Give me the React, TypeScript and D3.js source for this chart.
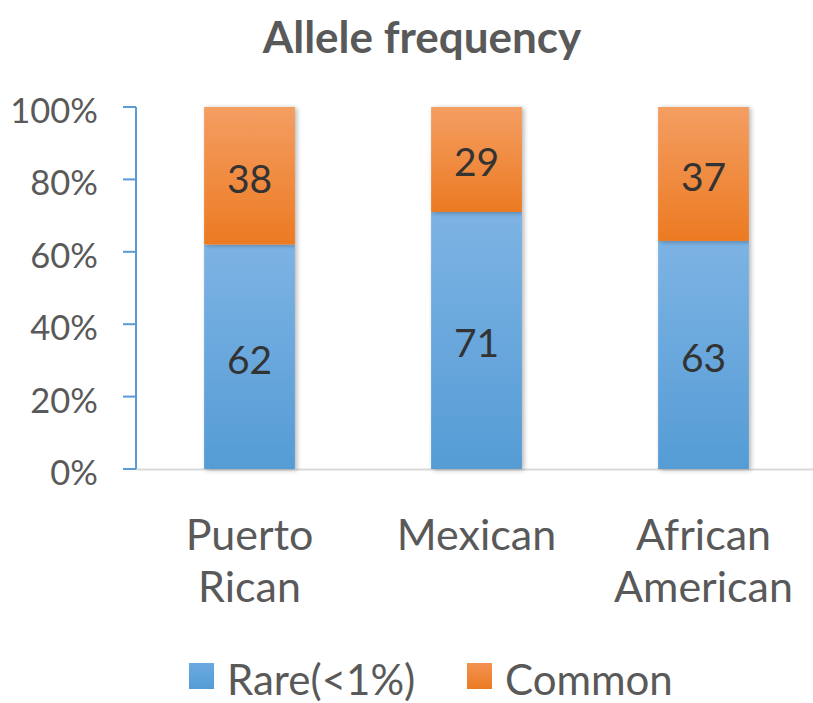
import React from "react";
import * as d3 from "d3";

const categories = ["Puerto Rican", "Mexican", "African American"];
const categoryLines = [["Puerto", "Rican"], ["Mexican"], ["African", "American"]];
const rareValues = [62, 71, 63];
const commonValues = [38, 29, 37];
const yTicks = [0, 20, 40, 60, 80, 100];
const seriesNames = ["Rare(<1%)", "Common"];

const W = 813;
const H = 703;
const FONT = "Lato, 'Open Sans', sans-serif";
const TEXT = "#595959";

export default function App() {
  const x = d3.scaleBand<string>().domain(categories).range([136, 817]).paddingInner(0.6).paddingOuter(0.3);
  const y = d3.scaleLinear().domain([0, 100]).range([469, 107]);
  const bw = x.bandwidth();

  const stackData = categories.map((c, i) => ({ cat: c, rare: rareValues[i], common: commonValues[i] }));
  const stack = d3.stack<any>().keys(["rare", "common"])(stackData);

  const fills = ["url(#gBlue)", "url(#gOrange)"];

  return (
    <svg width={W} height={H} style={{ display: "block", position: "absolute", left: 0, top: 0 }}>
      <defs>
        <linearGradient id="gBlue" x1="0" y1="0" x2="0" y2="1">
          <stop offset="0" stopColor="#7DB3E4" />
          <stop offset="1" stopColor="#559CD5" />
        </linearGradient>
        <linearGradient id="gOrange" x1="0" y1="0" x2="0" y2="1">
          <stop offset="0" stopColor="#F49E62" />
          <stop offset="1" stopColor="#EC7A22" />
        </linearGradient>
        <linearGradient id="lBlue" x1="0" y1="0" x2="0" y2="1">
          <stop offset="0" stopColor="#6AA9E0" />
          <stop offset="1" stopColor="#559CD5" />
        </linearGradient>
        <linearGradient id="lOrange" x1="0" y1="0" x2="0" y2="1">
          <stop offset="0" stopColor="#F39251" />
          <stop offset="1" stopColor="#EC7A22" />
        </linearGradient>
        <filter id="shadow" x="-20%" y="-10%" width="140%" height="120%">
          <feGaussianBlur in="SourceAlpha" stdDeviation="2.5" />
          <feOffset dx="2" dy="1" result="b" />
          <feComponentTransfer>
            <feFuncA type="linear" slope="0.3" />
          </feComponentTransfer>
          <feMerge>
            <feMergeNode />
            <feMergeNode in="SourceGraphic" />
          </feMerge>
        </filter>
      </defs>
      <rect x={0} y={0} width={W} height={H} fill="#ffffff" />

      <text x={422} y={53} textAnchor="middle" fontFamily={FONT} fontWeight="bold" fontSize={44} fill={TEXT}>
        Allele frequency
      </text>

      {/* baseline */}
      <line x1={136} x2={817} y1={y(0) + 0.5} y2={y(0) + 0.5} stroke="#D9D9D9" strokeWidth={2} />

      {/* bars */}
      {stack.map((s, si) => (
        <g key={si}>
          {s.map((d, i) => (
            <rect
              key={i}
              x={x(categories[i])!}
              y={y(d[1])}
              width={bw}
              height={y(d[0]) - y(d[1])}
              fill={fills[si]}
              filter="url(#shadow)"
            />
          ))}
        </g>
      ))}

      {/* data labels */}
      {stack.map((s, si) => (
        <g key={"l" + si}>
          {s.map((d, i) => (
            <text
              key={i}
              x={x(categories[i])! + bw / 2}
              y={y((d[0] + d[1]) / 2) + 17}
              textAnchor="middle"
              fontFamily={FONT}
              fontSize={39}
              fill="#333333"
            >
              {d[1] - d[0]}
            </text>
          ))}
        </g>
      ))}

      {/* y axis */}
      <line x1={136} x2={136} y1={y(0)} y2={y(100)} stroke="#5B9BD5" strokeWidth={2} />
      {yTicks.map((t) => (
        <g key={t}>
          <line x1={123} x2={136} y1={y(t)} y2={y(t)} stroke="#5B9BD5" strokeWidth={2} />
          <text x={98} y={y(t) + 16} textAnchor="end" fontFamily={FONT} fontSize={34.5} fill={TEXT}>
            {t}%
          </text>
        </g>
      ))}

      {/* category labels */}
      {categoryLines.map((lines, i) => (
        <text
          key={i}
          x={x(categories[i])! + bw / 2}
          y={550}
          textAnchor="middle"
          fontFamily={FONT}
          fontSize={43}
          fill={TEXT}
        >
          {lines.map((l, j) => (
            <tspan key={j} x={x(categories[i])! + bw / 2} dy={j === 0 ? 0 : 52}>
              {l}
            </tspan>
          ))}
        </text>
      ))}

      {/* legend */}
      <rect x={189} y={663} width={25} height={26} fill="url(#lBlue)" />
      <text x={227} y={695} fontFamily={FONT} fontSize={42} fill={TEXT}>
        {seriesNames[0]}
      </text>
      <rect x={467} y={663} width={25} height={26} fill="url(#lOrange)" />
      <text x={505} y={695} fontFamily={FONT} fontSize={42} fill={TEXT}>
        {seriesNames[1]}
      </text>
    </svg>
  );
}
